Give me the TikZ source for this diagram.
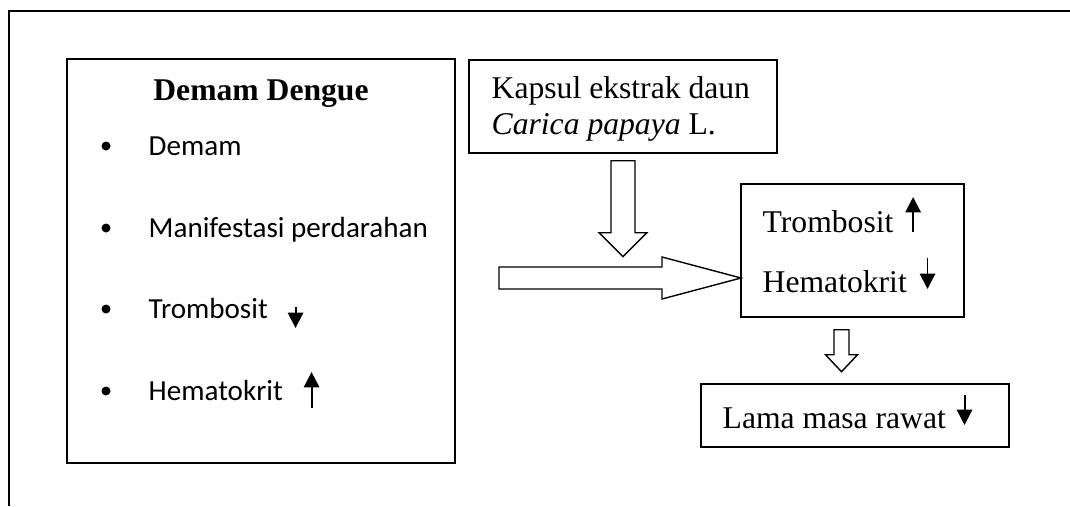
\documentclass[tikz,border=0pt]{standalone}
\usepackage{fontspec}
\setmainfont{Liberation Serif}
\newfontfamily\calibri{Carlito}
\usepackage{tikz}
\usetikzlibrary{
	arrows.meta,
	calc,
	positioning
}
\tikzset{every path/.append style={line width=1pt}}
\tikzset{
	box/.style={draw,rectangle,inner sep=0pt},
	txt/.style={anchor=base west,inner sep=0pt,font=\fontsize{22.5}{27}\selectfont},
	itm/.style={anchor=base west,inner sep=0pt,font=\calibri\fontsize{20.7}{25}\selectfont},
	bullet/.style={circle,fill,inner sep=0pt,minimum size=6.4pt},
	block/.style={draw,fill=white,line join=miter},
	textArr/.style={line width=1.4pt,-{Triangle[width=11pt,length=11pt]}}
}
% hollow block arrows: start, length, shaft half width, head half width, head length
\newcommand{\tikzBlockDown}[5]{\draw[block] #1 ++(-#3,0) -- ++(0,#2-#5) -- ++(#3-#4,0) -- ++(#4,#5) -- ++(#4,-#5) -- ++(#3-#4,0) -- ++(0,-#2+#5) -- cycle;}
\newcommand{\tikzBlockRight}[5]{\draw[block] #1 ++(0,-#3) -- ++(#2-#5,0) -- ++(0,#3-#4) -- ++(#5,#4) -- ++(-#5,#4) -- ++(0,#3-#4) -- ++(-#2+#5,0) -- cycle;}

\begin{document}
\begin{tikzpicture}[x=0.025cm,y=-0.025cm]
	\useasboundingbox (0,0) rectangle (1070,506);
	\draw (9,506) -- (9,11) -- (1070,11);
	
	% left box
	\node[box,minimum width=9.7cm,minimum height=10.1cm] (dd) at (261,261) {};
	\node[txt,anchor=base,font=\bfseries\fontsize{22.5}{27}\selectfont] (title) at (261,100) {Demam Dengue};
	\node[itm] (t1) at (148,155) {Demam};
	\node[itm] (t2) at (148,237) {Manifestasi perdarahan};
	\node[itm] (t3) at (148,318) {Trombosit};
	\node[itm] (t4) at (148,400) {Hematokrit};
	\node[bullet] (b1) at (106,146) {};
	\node[bullet] (b2) at (106,228) {};
	\node[bullet] (b3) at (106,309) {};
	\node[bullet] (b4) at (106,391) {};
	\draw[textArr] ($(t3.base east)+(27,-11)$) -- ++(0,21);
	\draw[textArr] ($(t4.base east)+(28,8)$) -- ++(0,-36);
	
	% capsule box
	\node[box,minimum width=7.7cm,minimum height=2.325cm] (kp) at (623,106.5) {};
	\node[txt] (k1) at (491,98) {Kapsul ekstrak daun};
	\node[txt] (k2) at (491,134) {\textit{Carica papaya} L.};
	
	% result box
	\node[box,minimum width=5.575cm,minimum height=3.325cm] (tb) at (852.5,250.5) {};
	\node[txt] (r1) at (762,232) {Trombosit};
	\node[txt] (r2) at (762,292) {Hematokrit};
	\draw[textArr] ($(r1.base east)+(19,0)$) -- ++(0,-35);
	\draw[textArr] ($(r2.base east)+(20,-34)$) -- ++(0,31);
	
	% length of stay box
	\node[box,minimum width=7.7cm,minimum height=1.575cm] (lm) at (855,415.5) {};
	\node[txt] (l1) at (722,428) {Lama masa rawat};
	\draw[textArr] ($(l1.base east)+(18,-33)$) -- ++(0,30);
	
	% block arrows
	\coordinate (kd) at ($(kp.south)+(0,7)$);
	\coordinate (fs) at (499,278);
	\coordinate (tl) at ($(tb.south)+(-11,12)$);
	\tikzBlockRight{(fs)}{242}{11}{21}{79}
	\tikzBlockDown{(kd)}{96}{12}{24}{24}
	\tikzBlockDown{(tl)}{42}{7.5}{16}{17}
\end{tikzpicture}
\end{document}
